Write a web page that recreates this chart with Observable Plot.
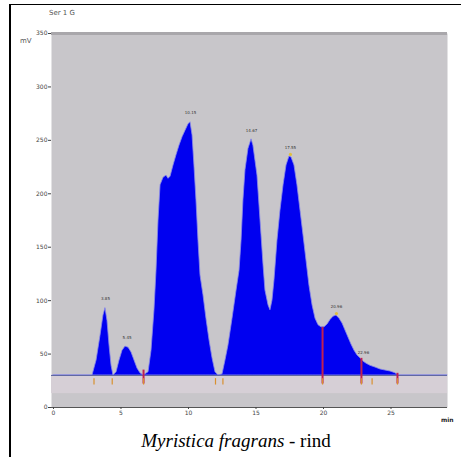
<!DOCTYPE html>
<html><head><meta charset="utf-8">
<script src="https://cdn.jsdelivr.net/npm/d3@7"></script>
<script src="https://cdn.jsdelivr.net/npm/@observablehq/plot@0.6"></script>
<style>
body{margin:0;background:#fff;}
#wrap{position:relative;width:461px;height:457px;overflow:hidden;background:#fff;}
#frame{position:absolute;left:9px;top:4px;width:460px;height:460px;border-left:2px solid #000;border-top:1px solid #000;pointer-events:none;}
#chart{position:absolute;left:0;top:0;}
#cap{position:absolute;left:11px;width:450px;top:430px;text-align:center;font:19px "Liberation Serif","Times New Roman",serif;color:#000;}
#ttl{position:absolute;left:49px;top:9px;font:7px "DejaVu Sans",sans-serif;color:#555;}
#unit{position:absolute;left:20px;top:37px;font:7px "DejaVu Sans",sans-serif;color:#555;}
#xunit{position:absolute;left:441px;top:416px;font:bold 6px "DejaVu Sans",sans-serif;color:#222;}
</style></head><body>
<div id="wrap">
<div id="chart"></div>
<div id="frame"></div>
<div id="ttl">Ser 1 G</div>
<div id="unit">mV</div>
<div id="xunit">min</div>
<div id="cap"><i>Myristica fragrans</i> - rind</div>
</div>
<script>
// retention time (min) and detector signal (mV)
const time = [0, 2.89, 3.19, 3.48, 3.70, 3.85, 4.00, 4.15, 4.30, 4.44, 4.67, 4.89, 5.11, 5.33, 5.56, 5.78, 6.00, 6.22, 6.44, 6.67,
  7.04, 7.26, 7.48, 7.63, 7.78, 7.93, 8.15, 8.37, 8.52, 8.67, 8.89, 9.11, 9.33, 9.56, 9.78, 10.00, 10.15, 10.30, 10.44, 10.59,
  10.74, 10.89, 11.11, 11.33, 11.56, 11.78, 12.00, 12.22, 12.52, 12.74, 12.96, 13.26, 13.56, 13.78, 13.93, 14.07, 14.22, 14.44,
  14.67, 14.81, 14.96, 15.11, 15.26, 15.41, 15.56, 15.70, 15.93, 16.07, 16.22, 16.37, 16.59, 16.81, 17.04, 17.26, 17.48, 17.63,
  17.85, 18.07, 18.30, 18.52, 18.74, 18.96, 19.19, 19.41, 19.63, 19.85, 20.07, 20.30, 20.52, 20.74, 20.96, 21.19, 21.41, 21.63,
  21.85, 22.07, 22.30, 22.52, 22.74, 22.96, 23.19, 23.48, 23.85, 24.22, 24.59, 24.96, 25.33, 25.56, 29.2];
const signal = [30, 30, 44, 67, 86, 93, 81, 58, 39, 30, 33, 44, 53, 57, 56, 51.5, 44, 36.5, 32, 30,
  33, 53, 91, 128, 175, 208, 215, 217, 214, 216, 226.5, 236, 245, 253, 259, 265, 267, 254.6, 226.5, 194,
  156, 123.6, 105, 83, 62.7, 46, 33, 30, 31, 44, 58, 83, 109.5, 128, 156, 194, 222, 242,
  251, 245, 231, 217, 189, 161, 133, 109.5, 95.5, 91, 100, 119, 156, 184, 208, 226.5, 235, 234,
  226.5, 208, 184, 161, 137.6, 114, 95.5, 83, 77, 75, 75, 77.7, 82, 85, 86, 83, 78.6, 72,
  65.5, 59, 53, 48.7, 46, 43, 41, 39, 37.4, 35.6, 34.6, 33.7, 32, 30, 30];
const baseline = 30;
const xTicks = [0, 5, 10, 15, 20, 25];
const yTicks = [0, 50, 100, 150, 200, 250, 300, 350];
const cutTimes = [6.67, 19.93, 22.81, 25.48];
const cutTops = [35, 75, 46, 32];
const markerTimes = [3.0, 4.35, 6.67, 12.0, 12.55, 19.93, 22.81, 23.6, 25.48];
const peakTimes = [3.85, 5.45, 10.15, 14.67, 17.55, 20.96, 22.96];
const peakValues = [93, 57, 267, 251, 235, 86, 43];
const peakLabels = ["3.85", "5.45", "10.15", "14.67", "17.55", "20.96", "22.96"];

const data = time.map((t, i) => ({t, v: signal[i]}));
const cuts = cutTimes.map((t, i) => ({t, top: cutTops[i]}));
const peaks = peakTimes.map((t, i) => ({t, v: peakValues[i], label: peakLabels[i]}));

const chart = Plot.plot({
  width: 461,
  height: 425,
  marginLeft: 51,
  marginRight: 14,
  marginTop: 33,
  marginBottom: 18,
  x: {type: "linear", domain: [-0.148, 29.185], ticks: xTicks},
  y: {type: "linear", domain: [0, 350], ticks: yTicks},
  style: {fontFamily: "DejaVu Sans, sans-serif", background: "transparent"},
  marks: [
    Plot.frame({fill: "#c8c6ca", stroke: null}),
    Plot.rect([{y1: 13, y2: 30}], {x1: -0.148, x2: 29.185, y1: "y1", y2: "y2", fill: "#d6cfd6"}),
    Plot.ruleY([350], {stroke: "#a9a7ab", strokeWidth: 3}),
    Plot.areaY(data, {x: "t", y1: baseline, y2: "v", fill: "#0000f0", stroke: "#8a8ae8", strokeWidth: 0.8}),
    Plot.ruleY([baseline], {stroke: "#5c64a0", strokeWidth: 1}),
    Plot.ruleY([0], {stroke: "#555", strokeWidth: 1}),
    Plot.ruleX(cuts, {x: "t", y1: 22, y2: "top", stroke: "#c02050", strokeWidth: 2}),
    Plot.ruleX(markerTimes, {x: d => d, y1: 21, y2: 27, stroke: "#d89030", strokeWidth: 1.2}),
    Plot.text(peaks, {x: "t", y: "v", text: "label", dy: -9, fontSize: 4, fill: "#333"}),
    Plot.dot(peaks.filter((d, i) => i === 4 || i === 5), {x: "t", y: "v", r: 1.6, fill: "#e0c040", stroke: null, dy: -2}),
    Plot.axisX({ticks: xTicks, tickSize: 2, fontSize: 6, fill: "#444", stroke: "#444", tickPadding: 1, label: null}),
    Plot.axisY({ticks: yTicks, tickSize: 3, fontSize: 6, fill: "#444", stroke: "#444", tickPadding: 1, label: null})
  ]
});
document.getElementById("chart").appendChild(chart);
</script>
</body></html>
